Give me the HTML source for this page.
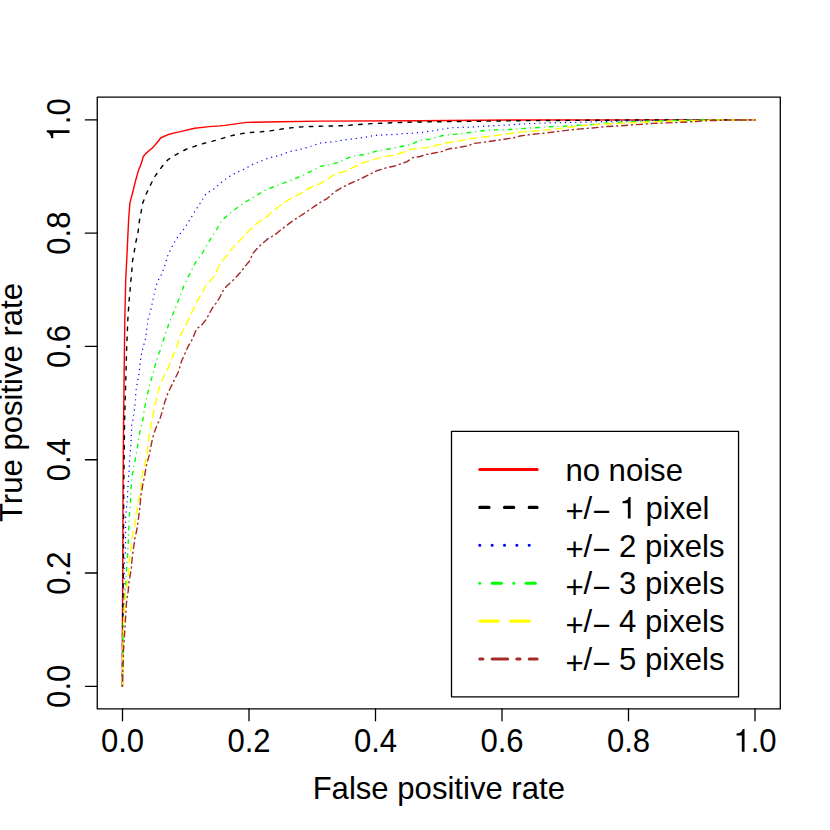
<!DOCTYPE html>
<html><head><meta charset="utf-8"><title>ROC</title>
<style>html,body{margin:0;padding:0;background:#fff}svg{display:block}text{font-family:"Liberation Sans",sans-serif;font-size:31.10px;fill:#000}</style></head>
<body>
<svg width="830" height="830" viewBox="0 0 830 830">
<rect width="830" height="830" fill="#fff"/>
<g fill="none" stroke-linecap="round" stroke-linejoin="round" stroke-width="1.420">
<polyline points="122.4,686.2 122.4,630.0 122.8,560.0 123.0,490.0 123.6,420.0 124.8,320.0 125.7,280.2 127.2,250.1 128.6,220.0 129.9,203.1 132.7,192.3 135.7,180.2 138.1,171.6 141.3,163.6 143.2,156.8 145.7,153.6 149.5,150.2 152.8,147.6 156.7,143.0 159.8,139.3 160.4,138.0 167.5,134.8 173.4,133.1 180.4,131.6 194.7,128.2 209.2,126.6 220.0,125.9 224.8,125.4 246.5,122.4 280.2,121.8 320.0,121.1 420.0,120.7 520.0,120.0 755.0,119.9" stroke="#FF0000"/>
<polyline points="122.4,686.2 122.6,630.0 122.8,614.8 123.4,560.0 123.7,490.0 124.6,420.0 125.8,380.2 126.6,350.1 127.8,320.0 129.0,301.9 129.9,292.3 130.8,281.4 131.8,271.8 132.4,261.6 133.9,253.7 135.7,242.9 138.1,232.0 139.5,220.0 140.7,215.2 142.3,204.3 145.9,194.7 150.1,185.7 154.3,177.2 158.6,171.2 164.0,164.0 168.2,159.5 176.6,154.3 185.7,149.5 194.7,146.3 204.3,143.3 212.8,141.1 220.0,139.0 229.0,136.3 238.1,134.2 248.3,132.7 258.6,132.0 268.2,131.1 276.6,129.9 286.9,128.2 297.1,127.2 306.7,126.6 324.2,126.1 345.3,125.7 356.1,124.7 374.2,123.5 394.7,122.7 416.4,122.0 468.2,121.4 520.0,120.7 620.0,120.1 700.0,119.9 755.0,119.9" stroke="#000000" stroke-dasharray="3.520 6.360"/>
<polyline points="122.4,686.2 122.7,640.0 123.0,627.0 123.9,602.0 124.1,583.6 124.3,576.9 124.3,563.4 125.0,557.9 125.3,553.3 125.5,548.2 125.5,528.4 125.5,518.7 126.0,513.6 126.4,508.6 126.8,503.9 127.5,498.9 127.7,493.8 127.7,490.0 128.1,484.1 128.9,474.0 129.3,464.3 130.0,454.6 130.9,444.9 131.4,435.2 131.7,425.1 132.9,420.0 134.2,411.6 135.4,401.3 135.9,391.1 137.5,382.0 139.3,372.4 140.2,362.2 141.7,352.5 145.5,338.7 147.5,324.2 148.0,319.4 150.7,310.4 152.8,300.7 154.7,291.3 157.3,282.0 161.6,274.2 164.8,265.5 167.6,256.1 171.6,247.5 176.0,239.3 183.9,229.0 188.9,221.2 191.1,217.6 196.1,209.4 201.0,201.9 206.1,193.7 214.0,188.9 217.6,185.7 220.0,183.3 227.2,177.8 235.7,172.8 244.1,169.2 252.5,164.6 261.0,161.0 270.0,157.6 279.0,155.8 288.1,151.9 297.1,150.1 306.7,147.5 315.8,144.5 320.0,143.1 334.5,141.6 344.7,139.9 354.3,138.6 364.0,137.5 373.6,135.5 383.3,134.9 392.9,134.5 403.1,133.7 412.8,133.1 421.8,132.3 431.4,131.1 441.7,129.3 451.3,127.7 461.0,127.3 470.6,127.1 480.2,126.5 489.9,125.9 500.7,125.3 510.4,124.9 520.0,124.1 544.1,122.9 568.2,122.5 592.3,122.0 620.0,121.1 670.0,120.2 710.0,119.9 755.0,119.9" stroke="#0000FF" stroke-dasharray="0.000 5.125"/>
<polyline points="122.4,686.2 122.8,640.0 123.0,625.8 124.1,610.6 124.7,598.8 125.3,592.0 125.8,584.9 126.1,578.1 126.4,571.0 127.2,560.0 127.8,551.6 128.1,544.8 128.5,538.1 128.7,531.3 128.9,524.6 129.2,517.8 129.8,510.7 130.4,504.3 130.6,497.6 131.0,490.0 131.4,483.3 131.9,476.5 133.1,470.6 134.4,463.9 135.7,457.1 136.8,450.4 137.8,444.5 139.0,437.7 139.9,431.0 142.0,423.4 142.9,420.0 144.1,411.6 146.5,398.3 149.5,385.7 153.1,373.0 156.7,359.8 161.0,347.7 165.2,334.5 169.6,321.8 174.8,309.8 179.6,297.1 183.9,285.7 189.6,274.2 195.3,262.8 203.1,251.9 209.2,241.1 215.2,232.0 220.0,223.6 223.6,218.8 233.3,210.4 244.7,202.5 255.5,196.1 266.4,189.6 278.4,185.1 291.1,180.2 303.1,175.2 316.4,168.8 320.0,166.4 329.6,164.8 339.9,161.8 351.3,156.4 364.6,154.6 377.8,150.7 391.1,148.6 404.3,145.9 411.6,144.3 420.0,140.1 423.0,139.8 429.6,139.2 441.7,135.8 456.1,134.1 469.4,132.5 482.7,130.7 495.9,129.9 509.2,129.5 520.0,128.8 535.7,127.7 550.1,126.7 564.6,126.1 577.8,125.3 592.3,124.5 604.3,123.1 620.0,122.2 653.7,120.9 690.0,120.1 755.0,119.9" stroke="#00FF00" stroke-dasharray="0.000 5.125 3.520 5.125"/>
<polyline points="122.4,686.2 123.0,640.0 123.3,630.0 123.9,619.0 124.3,610.6 125.0,600.5 125.5,593.7 126.8,587.0 127.7,581.9 128.5,575.2 128.9,568.4 129.5,559.0 130.6,551.6 131.4,545.7 131.9,538.9 133.1,533.0 134.8,527.1 135.4,520.4 135.9,515.3 137.3,508.6 137.8,502.7 139.5,496.7 140.7,490.0 141.6,478.2 142.8,472.3 144.5,466.4 145.4,462.2 147.5,451.2 148.7,438.6 150.4,429.3 151.3,424.2 151.6,420.0 153.1,414.0 155.5,403.1 158.3,391.1 161.6,381.4 165.8,371.8 168.2,368.2 171.2,359.8 176.0,348.9 180.2,335.7 187.5,321.8 189.9,316.4 195.9,303.1 202.5,292.3 206.7,283.9 210.0,281.2 215.0,275.2 219.5,265.0 226.9,255.2 234.1,246.1 242.5,237.7 251.0,228.7 259.4,221.4 264.0,219.2 271.5,212.0 280.2,205.5 289.9,198.9 298.3,194.7 303.1,192.3 309.2,188.1 320.0,183.7 328.4,178.7 333.3,175.1 339.3,172.7 344.1,171.7 351.3,168.4 362.2,163.0 374.2,159.4 385.1,156.4 392.3,155.5 401.9,152.8 409.2,149.8 420.0,148.0 426.0,147.6 434.5,145.8 445.3,143.1 457.3,141.2 469.4,138.8 481.4,137.3 493.5,135.8 505.5,134.1 520.0,132.1 532.0,131.3 544.1,130.1 556.1,128.9 568.2,127.5 580.2,125.9 592.3,124.9 604.3,124.1 620.0,123.4 653.7,121.7 687.5,120.7 720.0,120.0 755.0,119.9" stroke="#FFFF00" stroke-dasharray="7.225 5.125"/>
<polyline points="122.4,686.2 123.5,650.0 125.0,627.5 125.5,619.0 126.0,611.4 126.4,603.9 127.2,597.1 128.3,590.4 128.9,582.8 130.2,575.2 131.4,568.4 132.0,560.0 132.5,554.9 133.1,550.7 134.0,544.8 134.8,538.9 136.5,531.3 137.6,524.6 138.6,517.0 139.5,510.2 140.3,503.5 140.7,495.9 142.0,490.0 142.8,484.1 144.5,477.3 145.8,468.1 147.5,461.3 149.2,455.4 150.8,447.0 152.5,438.6 154.2,432.7 157.2,424.6 159.6,420.0 162.2,411.6 164.8,401.9 168.2,392.3 173.0,382.7 178.4,371.8 181.4,361.6 187.5,347.7 192.9,338.1 196.5,329.0 201.9,324.8 205.8,320.0 209.2,314.0 212.0,308.5 217.0,302.0 220.5,296.0 221.8,292.5 226.3,286.5 234.1,279.3 240.1,272.7 244.9,266.6 249.8,260.6 252.8,253.4 259.4,246.1 267.8,238.9 275.1,234.7 282.3,228.7 293.3,220.5 304.3,213.4 314.0,206.7 320.0,202.6 327.2,198.6 334.5,191.9 340.5,188.3 350.1,183.5 359.8,179.3 367.0,175.7 376.6,170.8 386.3,167.8 394.7,166.0 406.7,161.8 412.8,157.6 420.0,156.5 426.0,154.5 434.5,153.0 441.7,151.6 448.9,148.8 456.1,148.0 462.2,146.7 468.2,145.8 473.0,143.6 482.7,142.4 492.3,141.0 504.3,139.2 514.0,137.7 520.0,136.0 532.0,134.3 544.1,133.1 556.1,131.7 568.2,130.1 580.2,128.9 592.3,128.0 604.3,126.7 620.0,125.8 653.7,123.4 687.5,122.0 707.7,120.7 729.6,120.0 755.0,119.9" stroke="#A52A2A" stroke-dasharray="1.050 3.890 5.990 3.890"/>
</g>
<g fill="none" stroke="#000" stroke-linecap="round" stroke-linejoin="round" stroke-width="1.300">
<rect x="97.25" y="97.10" width="683.05" height="611.85"/>
<line x1="122.50" y1="708.95" x2="122.50" y2="720.81"/>
<line x1="97.25" y1="686.30" x2="85.39" y2="686.30"/>
<line x1="249.00" y1="708.95" x2="249.00" y2="720.81"/>
<line x1="97.25" y1="573.02" x2="85.39" y2="573.02"/>
<line x1="375.50" y1="708.95" x2="375.50" y2="720.81"/>
<line x1="97.25" y1="459.74" x2="85.39" y2="459.74"/>
<line x1="502.00" y1="708.95" x2="502.00" y2="720.81"/>
<line x1="97.25" y1="346.46" x2="85.39" y2="346.46"/>
<line x1="628.50" y1="708.95" x2="628.50" y2="720.81"/>
<line x1="97.25" y1="233.18" x2="85.39" y2="233.18"/>
<line x1="755.00" y1="708.95" x2="755.00" y2="720.81"/>
<line x1="97.25" y1="119.90" x2="85.39" y2="119.90"/>
</g>
<g text-anchor="middle">
<g transform="translate(122.50,751.7) scale(1,1.060)"><text x="0" y="0" text-anchor="middle">0.0</text></g>
<g transform="translate(69.5,686.30) rotate(-90) scale(1,1.060)"><text x="0" y="0" text-anchor="middle">0.0</text></g>
<g transform="translate(249.00,751.7) scale(1,1.060)"><text x="0" y="0" text-anchor="middle">0.2</text></g>
<g transform="translate(69.5,573.02) rotate(-90) scale(1,1.060)"><text x="0" y="0" text-anchor="middle">0.2</text></g>
<g transform="translate(375.50,751.7) scale(1,1.060)"><text x="0" y="0" text-anchor="middle">0.4</text></g>
<g transform="translate(69.5,459.74) rotate(-90) scale(1,1.060)"><text x="0" y="0" text-anchor="middle">0.4</text></g>
<g transform="translate(502.00,751.7) scale(1,1.060)"><text x="0" y="0" text-anchor="middle">0.6</text></g>
<g transform="translate(69.5,346.46) rotate(-90) scale(1,1.060)"><text x="0" y="0" text-anchor="middle">0.6</text></g>
<g transform="translate(628.50,751.7) scale(1,1.060)"><text x="0" y="0" text-anchor="middle">0.8</text></g>
<g transform="translate(69.5,233.18) rotate(-90) scale(1,1.060)"><text x="0" y="0" text-anchor="middle">0.8</text></g>
<g transform="translate(755.00,751.7) scale(1,1.060)"><path d="M359 0 L359 -690 L301 -690 C285 -622 240 -568 101 -552 L101 -491 L271 -491 L271 0 Z" transform="translate(-21.615,0) scale(0.03110)" fill="#000"/><text x="-4.323" y="0" text-anchor="start">.0</text></g>
<g transform="translate(69.5,119.90) rotate(-90) scale(1,1.060)"><path d="M359 0 L359 -690 L301 -690 C285 -622 240 -568 101 -552 L101 -491 L271 -491 L271 0 Z" transform="translate(-21.615,0) scale(0.03110)" fill="#000"/><text x="-4.323" y="0" text-anchor="start">.0</text></g>
<text x="438.8" y="799.1">False positive rate</text>
<text transform="translate(21.9,402.5) rotate(-90)">True positive rate</text>
</g>
<rect x="451.5" y="431.3" width="287.05" height="265.6" fill="#fff" stroke="#000" stroke-width="1.300" stroke-linejoin="round"/>
<g fill="none" stroke-linecap="round" stroke-width="3.0875">
<line x1="479.8" y1="469.5" x2="537.1" y2="469.5" stroke="#FF0000"/>
<line x1="479.8" y1="507.4" x2="537.1" y2="507.4" stroke="#000000" stroke-dasharray="9.262 15.438"/>
<line x1="479.8" y1="545.3" x2="537.1" y2="545.3" stroke="#0000FF" stroke-dasharray="0.000 12.350"/>
<line x1="479.8" y1="583.2" x2="537.1" y2="583.2" stroke="#00FF00" stroke-dasharray="0.000 12.350 9.262 12.350"/>
<line x1="479.8" y1="621.1" x2="537.1" y2="621.1" stroke="#FFFF00" stroke-dasharray="18.525 12.350"/>
<line x1="479.8" y1="659.0" x2="537.1" y2="659.0" stroke="#A52A2A" stroke-dasharray="3.087 9.262 15.437 9.262"/>
</g>
<g style="font-size:31.30px">
<text x="565.4" y="480.7">no noise</text>
<text x="565.4" y="518.6"><tspan dy="3.3">+</tspan><tspan dy="-3.3">/</tspan><tspan dy="3.3">−</tspan><tspan dy="-3.3"></tspan></text>
<g transform="translate(565.4,518.6)"><path d="M359 0 L359 -690 L301 -690 C285 -622 240 -568 101 -552 L101 -491 L271 -491 L271 0 Z" transform="translate(53.961,0) scale(0.03130)" fill="#000"/><text x="80.07" y="0">pixel</text></g>
<text x="565.4" y="556.5"><tspan dy="3.3">+</tspan><tspan dy="-3.3">/</tspan><tspan dy="3.3">−</tspan><tspan dy="-3.3"> 2 pixels</tspan></text>
<text x="565.4" y="594.4"><tspan dy="3.3">+</tspan><tspan dy="-3.3">/</tspan><tspan dy="3.3">−</tspan><tspan dy="-3.3"> 3 pixels</tspan></text>
<text x="565.4" y="632.3"><tspan dy="3.3">+</tspan><tspan dy="-3.3">/</tspan><tspan dy="3.3">−</tspan><tspan dy="-3.3"> 4 pixels</tspan></text>
<text x="565.4" y="670.2"><tspan dy="3.3">+</tspan><tspan dy="-3.3">/</tspan><tspan dy="3.3">−</tspan><tspan dy="-3.3"> 5 pixels</tspan></text>
</g>
</svg>
</body></html>
